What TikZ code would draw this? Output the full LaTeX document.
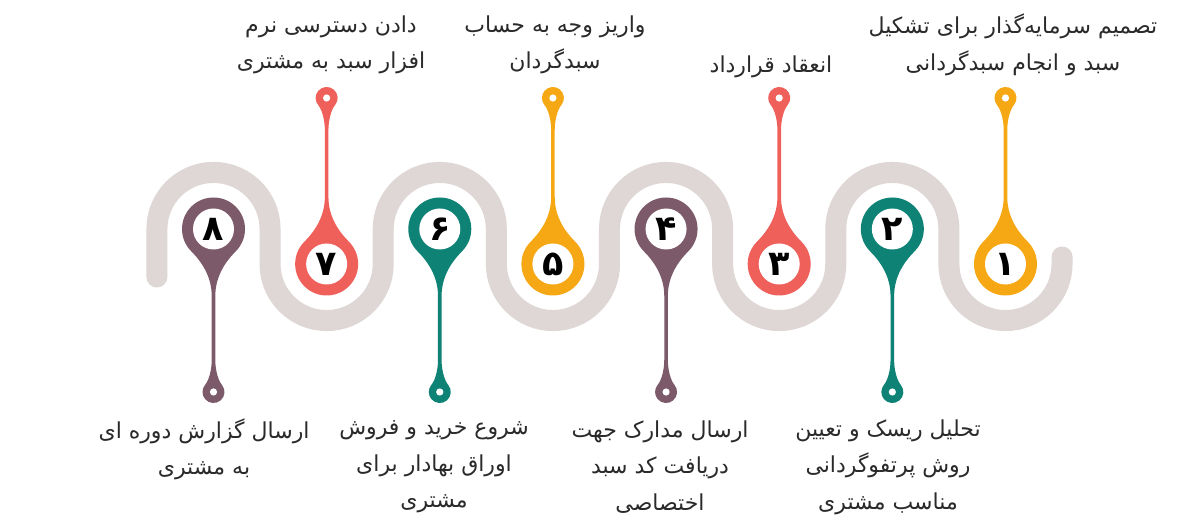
\documentclass[tikz,border=0pt]{standalone}
\usepackage{fontspec}
\TeXXeTstate=1
\newfontfamily\arabicfont[Script=Arabic]{DejaVu Sans}
\newfontfamily\digitfont[Script=Arabic]{DejaVu Sans Bold}
\definecolor{roadgray}{HTML}{DED7D5}
\definecolor{mauve}{HTML}{7D5A69}
\definecolor{coral}{HTML}{F0605B}
\definecolor{teal}{HTML}{0F8276}
\definecolor{amber}{HTML}{F5A814}
\definecolor{txtcol}{HTML}{2A2A2A}
\tikzset{
  road/.style={draw=roadgray, line width=21pt, line cap=round, line join=round},
  digitnode/.style={circle, fill=white, minimum size=41pt, inner sep=0pt, text=black, font=\fontsize{35}{35}\selectfont\digitfont},
  lbl/.style={align=center, text=txtcol, inner sep=0pt, font=\fontsize{22}{36.5}\selectfont\arabicfont}
}
\newcommand{\drawpin}[7]{%
\begin{scope}[shift={(#1,#2)}]
\fill[#5] (1.8,{#3*67}) -- (1.8,{#3*(#4-32)}) .. controls (1.8,{#3*(#4-22)}) and (4.57,{#3*(#4-11.7)}) .. (8.43,{#3*(#4-7.07)})
  arc[start angle={#3*(-40)}, end angle={#3*220}, radius=11]
  .. controls (-4.57,{#3*(#4-11.7)}) and (-1.8,{#3*(#4-22)}) .. (-1.8,{#3*(#4-32)})
  -- (-1.8,{#3*67}) .. controls (-1.8,{#3*47}) and (-12.3,{#3*32.3}) .. (-22.27,{#3*22.27})
  arc[start angle={#3*135}, end angle={#3*405}, radius=31.5]
  .. controls (12.3,{#3*32.3}) and (1.8,{#3*47}) .. (1.8,{#3*67}) -- cycle;
\fill[white] (0,{#3*#4}) circle[radius=3.6];
\end{scope}
\node[digitnode] (#7) at (#1,#2) {#6};
}
\begin{document}
\begin{tikzpicture}[x=1pt,y=1pt]
\useasboundingbox (0,0) rectangle (1200,524);
\fill[white] (0,0) rectangle (1200,524);
% road
\draw[road] (156.93,247) -- ++(0,48)
  arc[start angle=180,end angle=0,radius=56.57] -- ++(0,-35)
  arc[start angle=180,end angle=360,radius=56.57] -- ++(0,35)
  arc[start angle=180,end angle=0,radius=56.57] -- ++(0,-35)
  arc[start angle=180,end angle=360,radius=56.57] -- ++(0,35)
  arc[start angle=180,end angle=0,radius=56.57] -- ++(0,-35)
  arc[start angle=180,end angle=360,radius=56.57] -- ++(0,35)
  arc[start angle=180,end angle=0,radius=56.57] -- ++(0,-35)
  arc[start angle=180,end angle=360,radius=56.57] -- ++(0,7);
% pins
\drawpin{213.5}{295}{-1}{163}{mauve}{۸}{p8}
\drawpin{326.64}{260}{1}{166}{coral}{۷}{p7}
\drawpin{439.78}{295}{-1}{163}{teal}{۶}{p6}
\drawpin{552.92}{260}{1}{166}{amber}{۵}{p5}
\drawpin{666.06}{295}{-1}{163}{mauve}{۴}{p4}
\drawpin{779.2}{260}{1}{166}{coral}{۳}{p3}
\drawpin{892.34}{295}{-1}{163}{teal}{۲}{p2}
\drawpin{1005.48}{260}{1}{166}{amber}{۱}{p1}
% labels top
\node[lbl] (t7) at (331,479) {\beginR دادن دسترسی نرم\endR\\\beginR افزار سبد به مشتری\endR};
\node[lbl] (t5) at (555,479) {\beginR واریز وجه به حساب\endR\\\beginR سبدگردان\endR};
\node[lbl] (t3) at (771,457) {\beginR انعقاد قرارداد\endR};
\node[lbl] (t1) at (1013,479) {\beginR تصمیم سرمایه‌گذار برای تشکیل\endR\\\beginR سبد و انجام سبدگردانی\endR};
% labels bottom
\node[lbl] (t8) at (204,74.5) {\beginR ارسال گزارش دوره ای\endR\\\beginR به مشتری\endR};
\node[lbl] (t6) at (434,57) {\beginR شروع خرید و فروش\endR\\\beginR اوراق بهادار برای\endR\\\beginR مشتری\endR};
\node[lbl] (t4) at (660,57) {\beginR ارسال مدارک جهت\endR\\\beginR دریافت کد سبد\endR\\\beginR اختصاصی\endR};
\node[lbl] (t2) at (888,57) {\beginR تحلیل ریسک و تعیین\endR\\\beginR روش پرتفوگردانی\endR\\\beginR مناسب مشتری\endR};
\end{tikzpicture}
\end{document}
